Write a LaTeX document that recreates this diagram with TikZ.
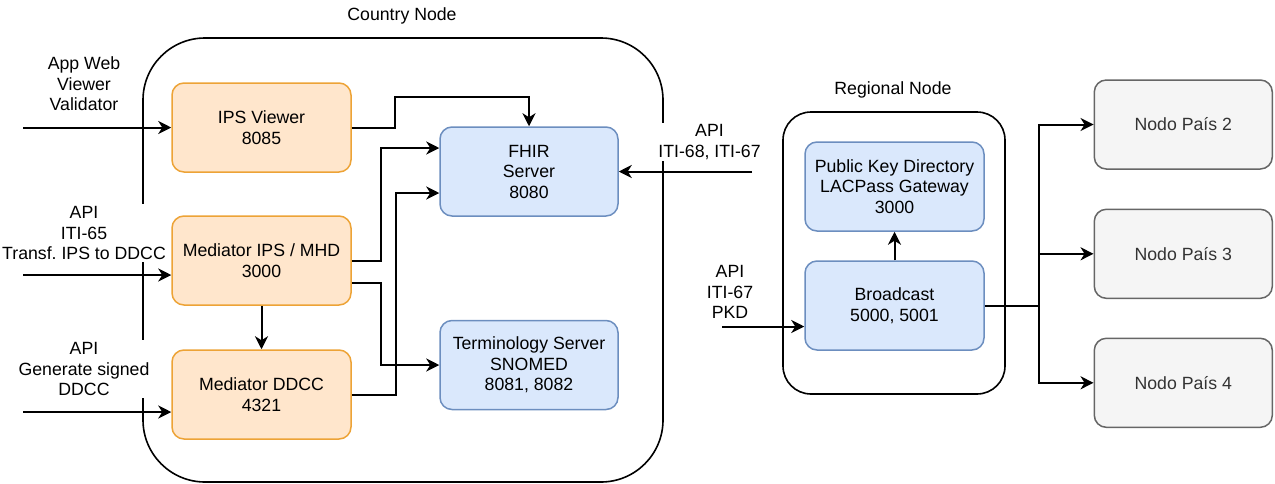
\documentclass[tikz,border=0pt]{standalone}
\usepackage{fontspec}
\setmainfont{Liberation Sans}
\usetikzlibrary{arrows.meta,calc}
\definecolor{orfill}{HTML}{FFE6CC}
\definecolor{orline}{HTML}{EDA336}
\definecolor{blfill}{HTML}{DAE8FC}
\definecolor{blline}{HTML}{6C8EBF}
\definecolor{gyfill}{HTML}{F5F5F5}
\definecolor{gyline}{HTML}{666666}
\definecolor{gytext}{HTML}{333333}
\frenchspacing
\begin{document}
\begin{tikzpicture}[x=1pt,y=-1pt,
  font=\fontsize{17.7}{20.5}\selectfont,
  box/.style={rounded corners=12pt, line width=1.5pt, minimum width=179pt,
    minimum height=89pt, align=center, inner sep=0pt},
  orbox/.style={box, fill=orfill, draw=orline},
  blbox/.style={box, fill=blfill, draw=blline},
  gybox/.style={box, fill=gyfill, draw=gyline, text=gytext},
  frame/.style={draw=black, line width=1.6pt},
  lbl/.style={align=center, fill=white, inner sep=2pt},
  conn/.style={line width=2pt, -{Stealth[length=13pt,width=13pt,inset=4pt]}},
  plain/.style={line width=2pt}
]
\useasboundingbox (0,0) rectangle (1275,483);

% group frames
\draw[frame, rounded corners=62pt] (143,38) rectangle (663,482);
\draw[frame, rounded corners=28pt] (783,112) rectangle (1005,394);
\node (tcountry) at (402,16) {Country Node};
\node (tregional) at (893,90) {Regional Node};

% interface labels
\node[lbl] (lweb) at (84,84) {App Web\\Viewer\\Validator};
\node[lbl] (liti65) at (84,233) {API\\ITI-65\\Transf. IPS to DDCC};
\node[lbl] (lsign) at (84,369) {API\\Generate signed\\DDCC};
\node[lbl] (liti68) at (709.5,142) {API\\ITI-68, ITI-67};
\node[lbl] (lpkd) at (730,292) {API\\ITI-67\\PKD};

% components of the country node
\node[orbox] (ipsv) at (261.5,127.5) {IPS Viewer\\8085};
\node[orbox] (medips) at (261.5,260.5) {Mediator IPS / MHD\\3000};
\node[orbox] (medddcc) at (261.5,394.5) {Mediator DDCC\\4321};
\node[blbox, minimum width=178pt] (fhir) at (529,171.5) {FHIR\\Server\\8080};
\node[blbox, minimum width=178pt] (term) at (529,365) {Terminology Server\\SNOMED\\8081, 8082};

% components of the regional node
\node[blbox] (pkd) at (894.5,186.5) {Public Key Directory\\LACPass Gateway\\3000};
\node[blbox] (bcast) at (894.5,305.5) {Broadcast\\5000, 5001};

% other country nodes
\node[gybox, minimum width=178pt] (n2) at (1183.3,124.5) {Nodo País 2};
\node[gybox, minimum width=178pt] (n3) at (1183.3,253.8) {Nodo País 3};
\node[gybox, minimum width=178pt] (n4) at (1183.3,382.8) {Nodo País 4};

% external entry points
\coordinate (inweb) at (23,127.5);
\coordinate (in65) at (23,275);
\coordinate (insign) at (23,412);
\coordinate (in68) at (752,171.5);
\coordinate (inpkd) at (722,326.5);
\coordinate (split) at (1039,305.5);

% connectors
\draw[conn] (inweb) -- (inweb -| ipsv.west);
\draw[conn] (in65) -- (in65 -| medips.west);
\draw[conn] (insign) -- (insign -| medddcc.west);
\draw[conn] (ipsv.east) -| (395,97) -| (fhir.north);
\draw[conn] (medips.east) -| (381,148) -- (fhir.west |- 0,148);
\draw[conn] (medips.east |- 0,283) -| (381,365) -- (term.west);
\draw[conn] (medddcc.east) -| (396,193) -- (fhir.west |- 0,193);
\draw[conn] (medips.south) -- (medddcc.north);
\draw[conn] (in68) -- (fhir.east);
\draw[conn] (inpkd) -- (inpkd -| bcast.west);
\draw[conn] (bcast.north) -- (pkd.south);
\draw[plain] (bcast.east) -- (split);
\draw[conn] (split) |- (n2.west);
\draw[conn] (split) |- (n3.west);
\draw[conn] (split) |- (n4.west);
\end{tikzpicture}
\end{document}
